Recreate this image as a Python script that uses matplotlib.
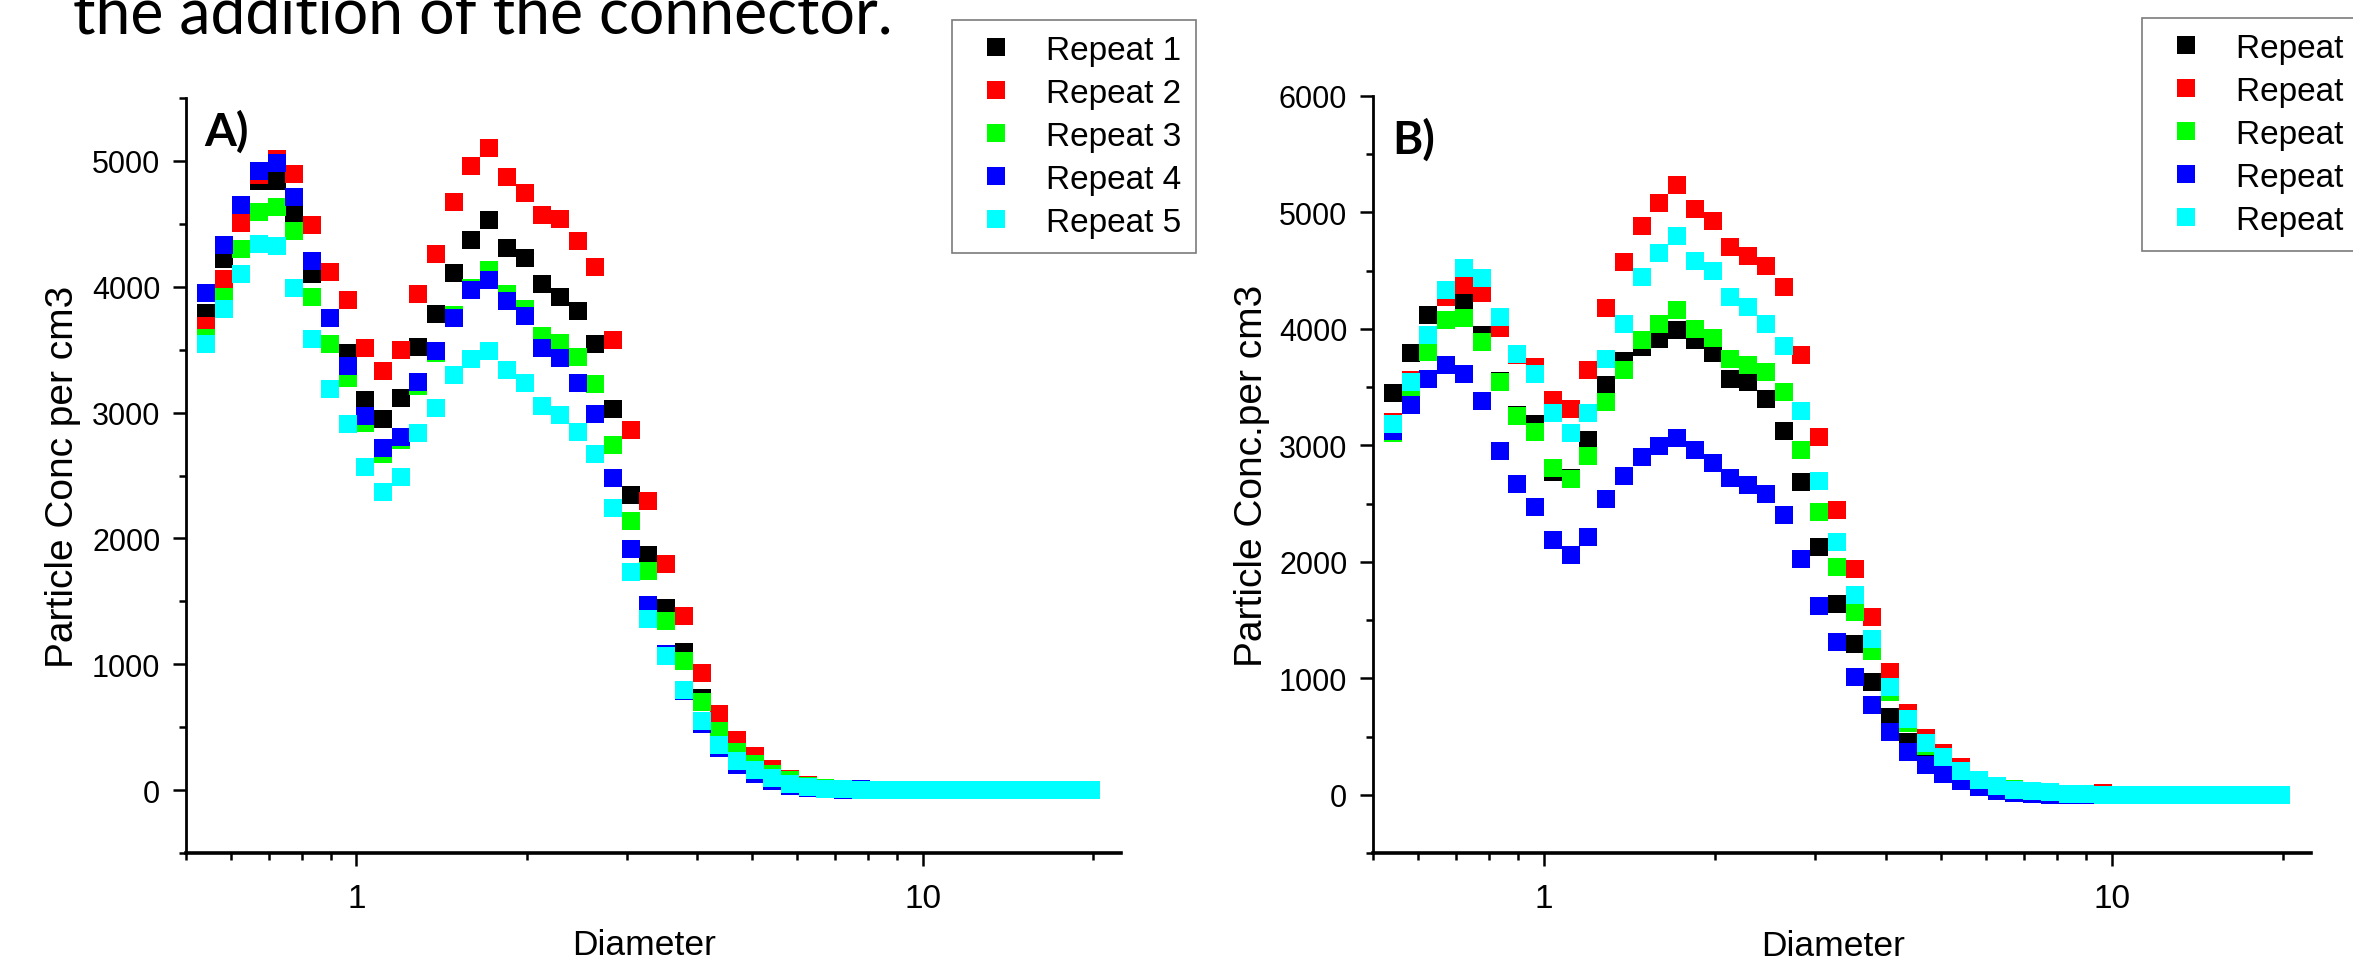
# two panels of particle size distributions (APS style), 5 repeats each
import matplotlib
matplotlib.use('Agg')
import matplotlib.pyplot as plt
from matplotlib import font_manager
from matplotlib.ticker import MultipleLocator, LogLocator, FixedLocator, NullFormatter, FuncFormatter

# diameter bins (um)
diameter = [0.542, 0.583, 0.626, 0.673, 0.723, 0.777, 0.835, 0.898, 0.965, 1.037,
            1.114, 1.197, 1.286, 1.382, 1.486, 1.596, 1.715, 1.843, 1.981, 2.129,
            2.288, 2.458, 2.642, 2.839, 3.051, 3.278, 3.523, 3.786, 4.068, 4.371,
            4.698, 5.048, 5.425, 5.829, 6.264, 6.732, 7.234, 7.774, 8.354, 8.977,
            9.647, 10.37, 11.14, 11.97, 12.86, 13.82, 14.86, 15.96, 17.15, 18.43, 19.81]

# panel A values
a_rep1 = [3790, 4218, 4620, 4841, 4844, 4588, 4104, 3750, 3473, 3100, 2947, 3119, 3523, 3787, 4107, 4369, 4527,
          4308, 4229, 4020, 3917, 3806, 3544, 3029, 2347, 1865, 1447, 1098, 728, 520, 340, 230, 140, 80, 35, 15,
          6, 4, 0, 0, 0, 0, 0, 0, 0, 0, 0, 0, 0, 0, 0]
a_rep2 = [3690, 4062, 4506, 4886, 5016, 4900, 4490, 4118, 3896, 3515, 3330, 3497, 3941, 4260, 4672, 4963, 5106,
          4876, 4749, 4567, 4535, 4361, 4157, 3576, 2863, 2294, 1794, 1384, 929, 603, 397, 273, 167, 90, 42, 18,
          8, 4, 0, 0, 0, 0, 0, 0, 0, 0, 0, 0, 0, 0, 0]
a_rep3 = [3592, 3919, 4300, 4593, 4633, 4440, 3917, 3547, 3275, 2918, 2672, 2781, 3211, 3470, 3775, 3993, 4131,
          3943, 3827, 3605, 3555, 3441, 3230, 2744, 2141, 1741, 1342, 1027, 701, 471, 304, 206, 127, 79, 35, 19,
          7, 4, 0, 0, 0, 0, 0, 0, 0, 0, 0, 0, 0, 0, 0]
a_rep4 = [3949, 4332, 4649, 4918, 4982, 4717, 4202, 3753, 3373, 2971, 2715, 2807, 3243, 3489, 3750, 3975, 4052,
          3885, 3766, 3515, 3436, 3235, 2992, 2477, 1913, 1469, 1085, 788, 524, 331, 198, 127, 71, 32, 13, 5,
          0, 10, 0, 0, 0, 0, 0, 0, 0, 0, 0, 0, 0, 0, 0]
a_rep5 = [3544, 3824, 4102, 4340, 4321, 3991, 3587, 3190, 2913, 2569, 2371, 2485, 2834, 3040, 3299, 3428, 3489,
          3338, 3235, 3053, 2982, 2847, 2667, 2244, 1733, 1363, 1066, 794, 550, 357, 233, 159, 98, 50, 26, 10,
          8, 3, 0, 0, 0, 0, 0, 0, 0, 0, 0, 0, 0, 0, 0]

# panel B values
b_rep1 = [3453, 3794, 4123, 4275, 4235, 3946, 3553, 3260, 3184, 2771, 2722, 3049, 3516, 3725, 3846, 3911, 3989,
          3903, 3794, 3573, 3542, 3401, 3124, 2685, 2130, 1640, 1297, 971, 670, 455, 360, 290, 180, 105, 60, 35,
          25, 18, 8, 4, 2, 0, 0, 0, 0, 0, 0, 0, 0, 0, 0]
b_rep2 = [3201, 3559, 3950, 4270, 4381, 4312, 4009, 3774, 3674, 3393, 3316, 3651, 4181, 4576, 4883, 5083, 5238,
          5034, 4928, 4705, 4628, 4542, 4361, 3780, 3072, 2448, 1941, 1529, 1051, 699, 484, 355, 235, 130, 75, 40,
          28, 20, 8, 5, 11, 0, 0, 0, 0, 0, 0, 0, 0, 0, 0]
b_rep3 = [3109, 3480, 3805, 4075, 4095, 3889, 3545, 3255, 3115, 2808, 2714, 2906, 3373, 3651, 3906, 4046, 4166,
          4003, 3926, 3745, 3688, 3631, 3459, 2963, 2431, 1953, 1572, 1237, 879, 613, 421, 300, 190, 115, 65, 46,
          27, 19, 7, 5, 2, 0, 0, 0, 0, 0, 0, 0, 0, 0, 0]
b_rep4 = [3121, 3347, 3571, 3691, 3613, 3381, 2952, 2668, 2470, 2185, 2060, 2215, 2542, 2737, 2900, 2995, 3066,
          2963, 2848, 2722, 2662, 2585, 2399, 2027, 1623, 1314, 1013, 773, 541, 369, 252, 178, 120, 69, 31, 17,
          10, 0, 0, 0, 0, 0, 0, 0, 0, 0, 0, 0, 0, 0, 0]
b_rep5 = [3187, 3545, 3952, 4333, 4527, 4441, 4103, 3782, 3616, 3278, 3109, 3281, 3745, 4046, 4447, 4648, 4800,
          4585, 4499, 4275, 4184, 4046, 3851, 3298, 2697, 2167, 1712, 1334, 928, 647, 441, 321, 206, 123, 72, 37,
          29, 20, 9, 9, 0, 0, 0, 0, 0, 0, 0, 0, 0, 0, 0]

labels = ['Repeat 1', 'Repeat 2', 'Repeat 3', 'Repeat 4', 'Repeat 5']
colors = ['#000000', '#ff0000', '#00ff00', '#0000ff', '#00ffff']

plt.rcParams['font.family'] = ['Liberation Sans', 'DejaVu Sans']

# the x labels in the picture look tall and narrow: use the narrow face if it is installed
try:
    font_manager.findfont('Liberation Sans Narrow', fallback_to_default=False)
    x_family, x_label_size, x_tick_size = ['Liberation Sans Narrow', 'Liberation Sans'], 29, 27
except ValueError:
    x_family, x_label_size, x_tick_size = ['Liberation Sans', 'DejaVu Sans'], 25.5, 24

W, H = 2353, 970
fig = plt.figure(figsize=(W / 100, H / 100), dpi=100)

# slide text cut off at the top
fig.text(73 / W, 1 - 34 / H, 'the addition of the connector.', fontsize=45,
         family=['Lato', 'DejaVu Sans'], ha='left', va='baseline')


def draw_panel(rect, series, ymax, ylabel, tag, tag_y, ylab_x, legend_xy):
    ax = fig.add_axes(rect)
    handles = []
    for vals, col, lab in zip(series, colors, labels):
        h, = ax.plot(diameter, vals, linestyle='none', marker='s', markersize=12.6,
                     markerfacecolor=col, markeredgewidth=0, color=col, label=lab)
        handles.append(h)
    ax.set_xscale('log')
    ax.set_xlim(0.5, 22.4)
    ax.set_ylim(-500, ymax)
    ax.xaxis.set_major_locator(FixedLocator([1, 10]))
    ax.xaxis.set_major_formatter(FuncFormatter(lambda v, p: '%g' % v))
    ax.xaxis.set_minor_locator(LogLocator(base=10, subs=[2, 3, 4, 5, 6, 7, 8, 9]))
    ax.xaxis.set_minor_formatter(NullFormatter())
    ax.yaxis.set_major_locator(MultipleLocator(1000))
    ax.yaxis.set_minor_locator(MultipleLocator(500))
    for s in ['top', 'right']:
        ax.spines[s].set_visible(False)
    ax.spines['left'].set_linewidth(2.0)
    ax.spines['bottom'].set_linewidth(2.6)
    ax.tick_params(which='major', direction='out', length=9.5, width=1.8, labelsize=22, pad=9)
    ax.tick_params(which='minor', direction='out', length=4.8, width=1.8)
    ax.tick_params(axis='x', which='major', pad=12, labelsize=x_tick_size)
    for t in ax.get_xticklabels():
        t.set_family(x_family)
    ax.set_xlabel('Diameter', fontsize=x_label_size, family=x_family)
    ax.xaxis.set_label_coords(0.49, -0.1)
    ax.set_ylabel(ylabel, fontsize=28)
    ax.yaxis.set_label_coords(ylab_x, 0.5)
    ax.text(0.02, tag_y, tag, transform=ax.transAxes, fontsize=33, fontweight='bold',
            family=['Lato', 'DejaVu Sans'], ha='left', va='top')
    leg = fig.legend(handles, labels, loc='upper left', bbox_to_anchor=legend_xy,
                     bbox_transform=fig.transFigure, frameon=True, fancybox=False,
                     edgecolor='#5a5a5a', fontsize=24, borderpad=0.45, labelspacing=0.36,
                     handlelength=1.75, handletextpad=0.62, borderaxespad=0, numpoints=1)
    leg.get_frame().set_linewidth(1.2)
    return ax


draw_panel([186 / W, 116 / H, 935 / W, 755 / H], [a_rep1, a_rep2, a_rep3, a_rep4, a_rep5],
           5500, 'Particle Conc per cm3', 'A)', 0.985, -0.112, (952 / W, 1 - 21 / H))
draw_panel([1373 / W, 116 / H, 938 / W, 757 / H], [b_rep1, b_rep2, b_rep3, b_rep4, b_rep5],
           6000, 'Particle Conc.per cm3', 'B)', 0.972, -0.1095, (2142 / W, 1 - 19 / H))

fig.savefig('out.png', dpi=100)
